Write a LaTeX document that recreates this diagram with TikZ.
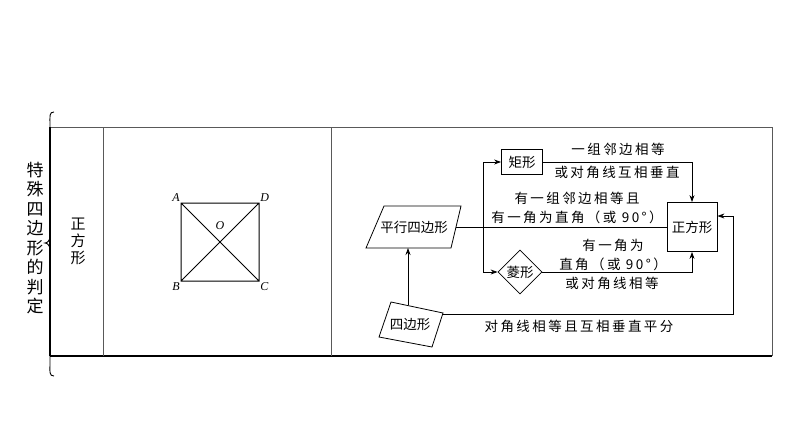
\documentclass[tikz,border=0pt]{standalone}
\usepackage{fontspec}
\setmainfont{Liberation Serif}
\newfontfamily\cjk{Noto Sans CJK SC}
\newfontfamily\cjks[LetterSpace=18]{Noto Sans CJK SC}
\usetikzlibrary{shapes.geometric,arrows.meta}
\begin{document}
\begin{tikzpicture}[x=1pt,y=-1pt,line width=0.8pt,
  lab/.style={font=\cjks\fontsize{13.5}{15}\selectfont,inner sep=0pt},
  box/.style={draw,font=\cjk\fontsize{13.5}{15}\selectfont},
  arr/.style={-{Stealth[length=7pt,width=5pt]}},
  pt/.style={font=\itshape\fontsize{12}{14}\selectfont,inner sep=1pt}]
\useasboundingbox (0,0) rectangle (794,447);
% table
\draw[gray!70!black] (50,127) -- (772,127) -- (772,356);
\draw[line width=1.2pt] (50,356) -- (772,356);
\draw[line width=2pt] (50,127) -- (50,356);
\draw[gray!70!black] (103,127) -- (103,356) (331,127) -- (331,356);
\draw[line width=0.9pt] (54,112) .. controls (49,112) and (50,116) .. (50,125) -- (50,236) .. controls (50,241) and (47,243) .. (45,243) .. controls (47,243) and (50,245) .. (50,250) -- (50,362) .. controls (50,372) and (49,376) .. (54,376);
\node[lab,align=center,font=\cjk\fontsize{17}{19.5}\selectfont] (t1) at (35,238) {特\\殊\\四\\边\\形\\的\\判\\定};
\node[lab,align=center,font=\cjk\fontsize{15}{17}\selectfont] (t2) at (78,241) {正\\方\\形};
% square
\coordinate (A) at (181,203); \coordinate (D) at (259,203);
\coordinate (C) at (259,281); \coordinate (B) at (181,281);
\draw[line width=1pt] (A) -- (D) -- (C) -- (B) -- cycle (A) -- (C) (B) -- (D);
\node[pt,anchor=south east] (la) at (A) {A};
\node[pt,anchor=south west] (ld) at (D) {D};
\node[pt,anchor=north east] (lb) at (B) {B};
\node[pt,anchor=north west] (lc) at (C) {C};
\node[pt] (lo) at (220,226) {O};
% flow diagram
\draw (384,206) -- (461,206) -- (451,248) -- (366,248) -- cycle;
\node[lab,font=\cjk\fontsize{13.5}{15}\selectfont] (pq) at (414,227) {平行四边形};
\coordinate (pqE) at (456,227); \coordinate (pqS) at (408,248);
\draw (391,302) -- (443,313) -- (432,347) -- (379,337) -- cycle;
\node[lab,font=\cjk\fontsize{13.5}{15}\selectfont] (sb) at (410,325) {四边形};
\coordinate (sbN) at (408,305); \coordinate (sbE) at (443,314);
\node[box,minimum width=50pt,minimum height=49pt,inner sep=1pt] (zf) at (692,227) {正方形};
\node[box,minimum width=41pt,minimum height=25pt,inner sep=1pt] (jx) at (522,162) {矩形};
\node[draw,diamond,aspect=1,inner sep=0pt,minimum size=44pt,font=\cjk\fontsize{13.5}{15}\selectfont] (lx) at (520,272) {菱形};
\coordinate (j) at (483,227);
\draw (pqE) -- (zf.west);
\draw[arr] (j) |- (jx.west);
\draw[arr] (j) |- (lx.west);
\draw[arr] (jx.east) -| (zf.north);
\draw[arr] (lx.east) -| (zf.south);
\draw[arr] (sbN) -- (pqS);
\coordinate (k) at (733,216);
\draw[arr] (sbE) -| (k) -- (zf.east|-k);
\node[lab] (l1) at (618,149) {一组邻边相等};
\node[lab] (l2) at (617,172) {或对角线互相垂直};
\node[lab] (l3) at (577,198) {有一组邻边相等且};
\node[lab] (l4) at (577,217) {有一角为直角（或 90°）};
\node[lab] (l5) at (613,245) {有一角为};
\node[lab] (l6) at (613,264) {直角（或 90°）};
\node[lab] (l7) at (612,283) {或对角线相等};
\node[lab] (l8) at (579,326) {对角线相等且互相垂直平分};
\end{tikzpicture}
\end{document}
